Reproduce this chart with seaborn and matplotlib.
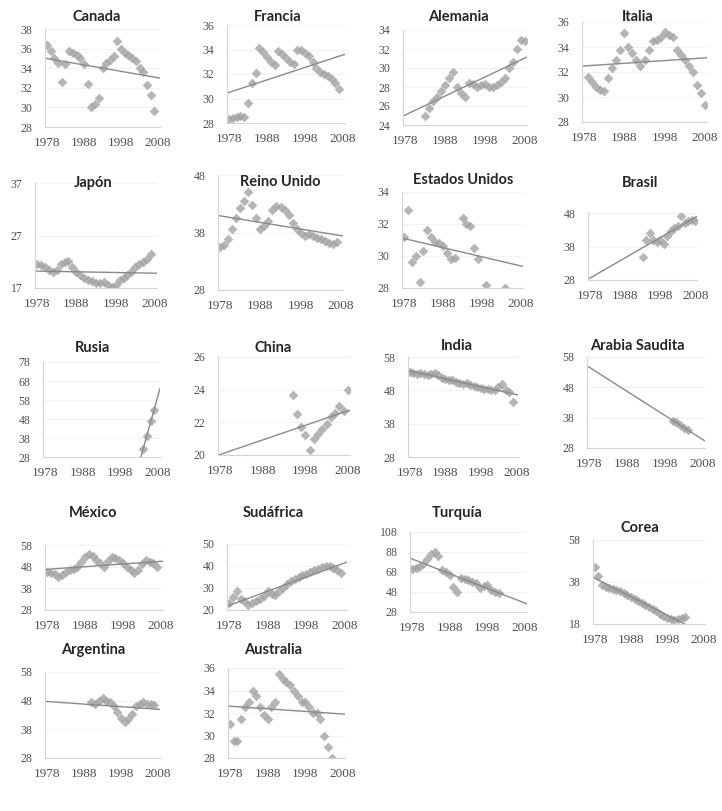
import matplotlib
matplotlib.use("Agg")
import matplotlib.pyplot as plt
import seaborn as sns
import numpy as np

# %% data
canada_years = list(range(1978, 2008))
canada = [36.4, 35.8, 35.0, 34.5, 32.6, 34.4, 35.8, 35.6, 35.3, 35.0, 34.4, 32.4,
          30.0, 30.3, 31.0, 34.0, 34.5, 34.8, 35.2, 36.8, 36.0, 35.6, 35.3, 35.0,
          34.7, 34.0, 33.6, 32.3, 31.3, 29.6]
francia_years = list(range(1978, 2008))
francia = [28.3, 28.4, 28.5, 28.6, 28.5, 29.6, 31.3, 32.1, 34.1, 33.8, 33.4, 33.0,
           32.7, 33.9, 33.6, 33.3, 33.0, 32.8, 34.0, 34.0, 33.7, 33.5, 33.0, 32.5,
           32.2, 32.0, 31.8, 31.6, 31.3, 30.8]
alemania_years = list(range(1983, 2009))
alemania = [25.0, 25.8, 26.5, 27.0, 27.6, 28.2, 28.9, 29.6, 28.0, 27.4, 27.0, 28.4,
            28.3, 28.0, 28.2, 28.3, 28.0, 28.0, 28.2, 28.5, 29.0, 30.0, 30.6, 32.0,
            33.0, 32.8]
italia_years = list(range(1979, 2009))
italia = [31.6, 31.2, 30.8, 30.6, 30.5, 31.5, 32.3, 33.0, 33.8, 35.1, 34.0, 33.5,
          33.0, 32.5, 33.0, 33.8, 34.5, 34.6, 34.8, 35.2, 35.0, 34.8, 33.8, 33.4,
          33.0, 32.5, 32.0, 31.0, 30.3, 29.4]
japon_years = list(range(1978, 2008))
japon = [21.5, 21.3, 21.0, 20.5, 20.0, 20.5, 21.5, 22.0, 22.2, 21.0, 20.0, 19.5,
         19.0, 18.5, 18.3, 18.0, 18.0, 18.2, 17.6, 17.2, 17.5, 18.5, 19.0, 19.5,
         20.0, 21.0, 21.5, 22.0, 22.5, 23.5]
reino_years = list(range(1978, 2008))
reino = [35.5, 35.8, 36.8, 38.6, 40.6, 42.3, 43.4, 45.1, 42.8, 40.6, 38.6, 39.2,
         40.0, 42.0, 42.6, 42.4, 42.0, 41.0, 39.7, 38.6, 38.0, 37.4, 37.7, 37.4,
         37.1, 36.8, 36.5, 36.2, 36.0, 36.3]
eeuu_years = list(range(1978, 1992)) + [1993, 1994, 1995, 1996, 1997, 1999, 2004]
eeuu = [31.2, 32.9, 29.6, 30.0, 28.4, 30.3, 31.6, 31.2, 30.9, 30.8, 30.6, 30.2,
        29.8, 29.9, 32.4, 32.0, 31.9, 30.5, 29.8, 28.2, 28.0]
brasil_years = list(range(1993, 2009))
brasil = [35.0, 40.0, 42.0, 39.8, 39.2, 39.8, 38.8, 41.0, 42.5, 43.5, 44.0, 47.0,
          45.0, 45.5, 46.0, 45.5]
rusia_years = [2004, 2005, 2006, 2007]
rusia = [32.0, 39.0, 47.0, 53.0]
china_years = list(range(1995, 2009))
china = [23.7, 22.5, 21.7, 21.2, 20.3, 21.0, 21.3, 21.6, 21.9, 22.3, 22.6, 23.0,
         22.7, 24.0]
india_years = list(range(1978, 2008))
india = [53.5, 53.3, 53.0, 53.2, 52.8, 52.6, 53.0, 53.3, 52.5, 51.8, 51.5, 51.0,
         51.2, 50.5, 50.3, 50.0, 50.2, 49.6, 49.3, 49.0, 48.7, 48.5, 48.3, 48.0,
         48.2, 49.0, 50.0, 48.0, 47.5, 44.5]
arabia_years = [2000, 2001, 2002, 2003, 2004]
arabia = [37.0, 36.5, 35.5, 34.5, 34.0]
mexico_years = list(range(1978, 2008))
mexico = [45.7, 45.0, 44.5, 43.4, 44.0, 45.5, 46.5, 47.0, 48.0, 50.0, 52.5, 54.0,
          53.0, 51.0, 49.5, 48.0, 50.5, 52.6, 52.0, 51.0, 49.5, 48.0, 46.5, 45.0,
          46.5, 49.0, 51.0, 50.0, 49.5, 48.0]
sudafrica_years = list(range(1978, 2008))
sudafrica = [23.3, 26.0, 28.5, 25.0, 24.0, 22.5, 23.0, 24.0, 25.0, 26.5, 28.5, 27.5,
             27.0, 28.5, 30.0, 32.0, 33.0, 34.0, 35.0, 35.7, 36.5, 37.5, 38.0, 38.8,
             39.5, 40.0, 40.0, 39.0, 38.0, 37.0]
turquia_years = list(range(1978, 2002))
turquia = [71.0, 72.0, 73.0, 76.0, 81.0, 86.0, 88.0, 84.0, 70.0, 68.0, 65.0, 53.0,
           48.0, 62.0, 61.0, 60.0, 58.0, 57.0, 52.0, 54.0, 55.0, 50.0, 48.0, 47.0]
corea_years = list(range(1978, 2004))
corea = [45.0, 41.0, 36.5, 35.5, 35.0, 34.5, 34.0, 33.5, 33.0, 32.0, 31.0, 30.0,
         29.0, 28.0, 27.0, 26.0, 25.0, 24.0, 23.0, 22.0, 21.0, 20.5, 20.0, 20.5,
         21.0, 21.5]
argentina_years = list(range(1990, 2008))
argentina = [47.5, 47.0, 48.0, 49.0, 48.0, 47.5, 46.0, 44.0, 42.0, 40.5, 41.5, 43.5,
             46.0, 47.0, 47.5, 47.0, 47.0, 46.5]
australia_years = list(range(1978, 2006))
australia = [31.0, 29.5, 29.5, 31.5, 32.5, 33.0, 34.0, 33.5, 32.5, 31.8, 31.5, 32.5,
             33.0, 35.5, 35.0, 34.8, 34.5, 34.0, 33.5, 33.0, 33.0, 32.5, 32.0, 32.0,
             31.5, 30.0, 29.0, 28.0]

x_ticks = [1978, 1988, 1998, 2008]

# name, years, values, (ymin, ymax, step), box in px (l, t, r, b), title centre px (x, y)
panels = [
    ("Canada", canada_years, canada, (28, 38, 2), (45, 29, 160, 127), (97, 17)),
    ("Francia", francia_years, francia, (28, 36, 2), (227, 25, 345, 123), (278, 17)),
    ("Alemania", alemania_years, alemania, (24, 34, 2), (403, 30, 527, 125), (458, 17)),
    ("Italia", italia_years, italia, (28, 36, 2), (582, 22, 707, 122), (638, 17)),
    ("Japón", japon_years, japon, (17, 37, 10), (35, 183, 157, 288), (93, 183)),
    ("Reino Unido", reino_years, reino, (28, 48, 10), (218, 175, 343, 290), (280, 182)),
    ("Estados Unidos", eeuu_years, eeuu, (28, 34, 2), (402, 192, 523, 288), (463, 180)),
    ("Brasil", brasil_years, brasil, (28, 48, 10), (588, 213, 697, 280), (640, 183)),
    ("Rusia", rusia_years, rusia, (28, 78, 10), (43, 362, 160, 457), (93, 348)),
    ("China", china_years, china, (20, 26, 2), (218, 357, 350, 455), (273, 348)),
    ("India", india_years, india, (28, 58, 10), (408, 357, 518, 457), (457, 346)),
    ("Arabia Saudita", arabia_years, arabia, (28, 58, 10), (587, 357, 705, 448), (637, 346)),
    ("México", mexico_years, mexico, (28, 58, 10), (45, 545, 163, 610), (93, 513)),
    ("Sudáfrica", sudafrica_years, sudafrica, (20, 50, 10), (227, 544, 347, 610), (273, 513)),
    ("Turquía", turquia_years, turquia, (28, 108, 20), (410, 532, 527, 612), (457, 513)),
    ("Corea", corea_years, corea, (18, 58, 20), (593, 540, 705, 624), (640, 528)),
    ("Argentina", argentina_years, argentina, (28, 58, 10), (45, 672, 160, 758), (93, 650)),
    ("Australia", australia_years, australia, (28, 36, 2), (228, 668, 345, 758), (273, 650)),
]

# %%
sns.set_style("white")
plt.rcParams["font.family"] = ["Liberation Serif", "DejaVu Serif"]

W, H = 722, 811
fig = plt.figure(figsize=(W / 100, H / 100), dpi=100)

for name, years, vals, (ymin, ymax, step), (l, t, r, b), (tx, ty) in panels:
    ax = fig.add_axes([l / W, 1 - b / H, (r - l) / W, (b - t) / H])
    ax.set_xlim(1977.5, 2008.5)
    ax.set_ylim(ymin, ymax)
    sns.regplot(
        x=np.array(years, dtype=float),
        y=np.array(vals, dtype=float),
        ax=ax,
        ci=None,
        truncate=False,
        marker="D",
        scatter_kws={"s": 24, "color": "#a3a3a3", "linewidths": 0},
        line_kws={"color": "#8a8a8a", "lw": 1.0},
    )
    ax.set_xlim(1977.5, 2008.5)
    ax.set_ylim(ymin, ymax)
    ax.set_xticks(x_ticks)
    ax.set_yticks(np.arange(ymin, ymax + 0.1, step))
    ax.set_xlabel("")
    ax.set_ylabel("")
    ax.tick_params(axis="x", labelsize=9.5, colors="#d0d0d0", labelcolor="#505050",
                   length=3, pad=4, direction="out")
    ax.tick_params(axis="y", labelsize=8.5, colors="#d0d0d0", labelcolor="#505050",
                   length=3, pad=6, direction="out")
    ax.grid(axis="y", color="#f2f2f2", lw=0.7)
    for side in ["top", "right"]:
        ax.spines[side].set_visible(False)
    for side in ["left", "bottom"]:
        ax.spines[side].set_color("#d4d4d4")
        ax.spines[side].set_linewidth(0.8)
    fig.text(tx / W, 1 - ty / H, name, ha="center", va="center",
             fontsize=10.5, fontweight="bold", color="#262626", family=["Lato", "DejaVu Sans"])

plt.savefig("out.png", dpi=100)
